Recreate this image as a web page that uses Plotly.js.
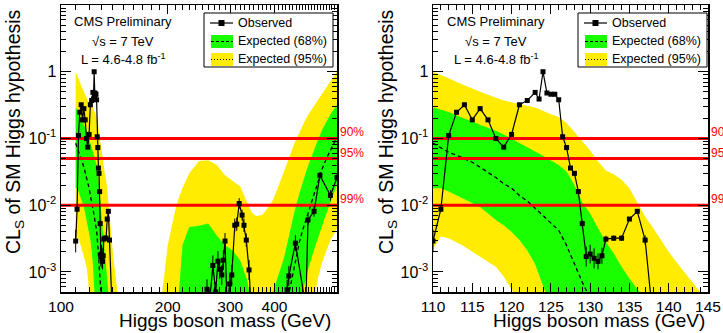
<!DOCTYPE html>
<html><head><meta charset="utf-8">
<script src="https://cdn.plot.ly/plotly-3.0.1.min.js"></script>
<style>html,body{margin:0;padding:0;background:#fff}#chart{width:723px;height:333px}</style>
</head><body><div id="chart"></div>
<script>
// ---------------- DATA ----------------
// Low-mass region (GeV), used by both panels
const lowMass = [110,111,112,113,114,115,116,117,118,119,120,121,122,123,124,125,126,127,128,129,130,131,132,133,134,135,136,137,138,139,140,141,142,143,144,145];
const yellowUpLow = [1.0,0.9,0.8,0.7,0.62,0.55,0.5,0.45,0.41,0.37,0.35,0.33,0.31,0.29,0.26,0.23,0.21,0.17,0.125,0.09,0.066,0.045,0.033,0.029,0.024,0.018,0.011,0.0067,0.0046,0.003,0.002,0.0014,0.001,0.0007,0.0005,0.0004];
const greenUpLow = [0.29,0.27,0.25,0.22,0.20,0.18,0.16,0.145,0.13,0.115,0.10,0.087,0.075,0.064,0.055,0.047,0.04,0.032,0.02,0.011,0.0075,0.0045,0.0028,0.0019,0.0012,0.0008,0.00055,0.0004,0.0003,0.0002,0.0001,1e-5,1e-5,1e-5,1e-5,1e-5];
const medianLow = [0.085,0.072,0.062,0.056,0.050,0.044,0.037,0.031,0.026,0.021,0.018,0.014,0.0115,0.009,0.007,0.0053,0.0042,0.0025,0.0013,0.0007,0.0004,0.0002,0.0001,1e-5,1e-5,1e-5,1e-5,1e-5,1e-5,1e-5,1e-5,1e-5,1e-5,1e-5,1e-5,1e-5];
const greenLoLow = [0.018,0.018,0.016,0.014,0.0125,0.011,0.0094,0.0075,0.006,0.005,0.004,0.003,0.0021,0.0013,0.0006,0.0003,0.0001,1e-6,1e-6,1e-6,1e-6,1e-6,1e-6,1e-6,1e-6,1e-6,1e-6,1e-6,1e-6,1e-6,1e-6,1e-6,1e-6,1e-6,1e-6,1e-6];
const yellowLoLow = [0.0022,0.0034,0.0032,0.0028,0.0024,0.002,0.0017,0.00145,0.0012,0.00085,0.00055,0.00035,0.0002,0.0001,1e-7,1e-7,1e-7,1e-7,1e-7,1e-7,1e-7,1e-7,1e-7,1e-7,1e-7,1e-7,1e-7,1e-7,1e-7,1e-7,1e-7,1e-7,1e-7,1e-7,1e-7,1e-7];

const lowObsMass = [110,111,112,113,114,115,116,117,118,119,120,121,122,123,123.5,124,124.5,125,125.5,126,126.5,127,127.5,128,128.5,129,129.5,130,130.5,131,131.5,132,133,134,135,136,137,138];
const lowObs = [0.0029,0.0087,0.111,0.247,0.32,0.19,0.28,0.19,0.10,0.074,0.115,0.32,0.37,0.49,0.39,1.0,0.48,0.46,0.46,0.38,0.106,0.073,0.036,0.030,0.016,0.0053,0.0017,0.00185,0.0016,0.00144,0.00175,0.0031,0.0032,0.0032,0.0062,0.0081,0.0030,0.0002];
const lowObsErrDex = [0.17,0.04,0,0,0,0,0,0,0,0,0,0,0,0,0,0,0,0,0,0,0,0,0,0,0,0.05,0.15,0.14,0.15,0.12,0.12,0.05,0.04,0.04,0.03,0.02,0.07,0];

// High-mass region (left panel only)
const hiMass = [150,160,185,193,200,210,215,220,230,245,260,275,290,305,320,335,345,355,370,385,396,410,425,440,455,470,480,490,500,515,530,545,560,575,590,600];
const yellowUpHi = [1e-6,1e-6,1e-4,5e-4,2.5e-3,8.5e-3,0.013,0.018,0.03,0.046,0.047,0.04,0.028,0.023,0.019,0.011,0.0078,0.0068,0.0072,0.0095,0.012,0.019,0.031,0.052,0.085,0.125,0.155,0.195,0.235,0.3,0.37,0.47,0.58,0.72,0.88,1.0];
const greenUpHi = [1e-7,1e-7,1e-7,1e-7,1e-6,1e-5,5e-4,2.5e-3,4.7e-3,4.9e-3,5.3e-3,3.5e-3,2.5e-3,2.1e-3,1.5e-3,7.5e-4,3e-4,1e-4,5e-5,1.5e-4,5e-4,9e-4,1.6e-3,3.6e-3,8e-3,0.015,0.022,0.031,0.042,0.065,0.095,0.135,0.18,0.23,0.28,0.32];
const medianHi = [1e-7,1e-7,1e-7,1e-7,1e-7,1e-7,1e-7,1e-7,1e-7,1e-7,1e-7,1e-7,1e-7,1e-7,1e-7,1e-7,1e-7,1e-7,1e-7,1e-7,1e-7,1e-7,1.5e-4,5e-4,1.2e-3,2.8e-3,4.2e-3,6e-3,8.5e-3,0.014,0.023,0.035,0.05,0.068,0.09,0.105];
const greenLoHi = [1e-7,1e-7,1e-7,1e-7,1e-7,1e-7,1e-7,1e-7,1e-7,1e-7,1e-7,1e-7,1e-7,1e-7,1e-7,1e-7,1e-7,1e-7,1e-7,1e-7,1e-7,1e-7,1e-7,1e-7,1e-7,1e-7,5e-4,8e-4,1.2e-3,2e-3,3.2e-3,5e-3,7.5e-3,0.011,0.016,0.02];
const yellowLoHi = [1e-7,1e-7,1e-7,1e-7,1e-7,1e-7,1e-7,1e-7,1e-7,1e-7,1e-7,1e-7,1e-7,1e-7,1e-7,1e-7,1e-7,1e-7,1e-7,1e-7,1e-7,1e-7,1e-7,1e-7,1e-7,1e-7,1e-7,1e-7,1e-7,3e-4,8e-4,1.4e-3,2.1e-3,3e-3,3.8e-3,4.5e-3];

const hiObsMass = [145,200,252,258,263,268,273,277,280,284,287,290,294,299,303,309,313,318,324,328,333,339,345,400,428,434,439,458,490,497,517,537,575,600];
const hiObs = [1e-6,1e-6,3e-4,5.5e-4,4e-4,1.25e-3,5e-4,1.45e-3,1.1e-3,9e-4,1.5e-3,2.9e-3,3e-4,6.6e-4,9e-4,5e-3,5.2e-3,0.0106,7.1e-3,5e-3,3e-3,1.07e-3,2e-4,1e-6,2e-4,5.4e-4,8.7e-4,2.7e-3,3e-4,6e-3,8.1e-3,0.028,0.014,0.026];
const hiObsErrDex = [0,0,0.15,0.15,0.15,0.15,0.15,0.15,0.15,0.15,0.15,0.12,0.15,0.15,0.15,0.1,0.1,0.08,0.08,0.1,0.1,0.15,0,0,0.15,0.15,0.15,0.12,0,0.08,0.08,0.05,0.08,0.05];

const clLevels = [0.1, 0.05, 0.01];
const clLabels = ['90%', '95%', '99%'];

const yTickVals = [0.001, 0.01, 0.1, 1];
const yTickText = ['10<sup>-3</sup>', '10<sup>-2</sup>', '10<sup>-1</sup>', '1'];
const xTickLeft = [100, 200, 300, 400];
const xTickRight = [110, 115, 120, 125, 130, 135, 140, 145];

const legendLabels = ['Observed', 'Expected (68%)', 'Expected (95%)'];
const infoLines = ['CMS Preliminary', '\u221As = 7 TeV', 'L = 4.6-4.8 fb<sup>-1</sup>'];

// ---------------- STYLE / LAYOUT ----------------
const W = 723, H = 333;
const FONT = 'Liberation Sans, Arial, Helvetica, sans-serif';
const YELLOW = '#ffec00', GREEN = '#1aff00', RED = '#ff0000';
const fx = p => p / W, fy = p => 1 - p / H;
const yRange = [5e-4, 10];
const xRangeLeft = [100, 600], xRangeRight = [110, 145];

function errs(vals, dex) {
  return {
    up: vals.map((v, i) => v * (Math.pow(10, dex[i]) - 1)),
    dn: vals.map((v, i) => v * (1 - Math.pow(10, -dex[i])))
  };
}

function panelTraces(xa, ya, mass, yUp, gUp, med, gLo, yLo, oMass, obs, oErr, xr) {
  const base = {xaxis: xa, yaxis: ya, hoverinfo: 'skip', showlegend: false};
  const e = errs(obs, oErr);
  const t = [
    Object.assign({x: mass, y: yLo, mode: 'lines', line: {width: 0, color: YELLOW}}, base),
    Object.assign({x: mass, y: yUp, mode: 'lines', fill: 'tonexty', fillcolor: YELLOW, line: {width: 0, color: YELLOW}}, base),
    Object.assign({x: mass, y: gLo, mode: 'lines', line: {width: 0, color: GREEN}}, base),
    Object.assign({x: mass, y: gUp, mode: 'lines', fill: 'tonexty', fillcolor: GREEN, line: {width: 0, color: GREEN}}, base),
    Object.assign({x: mass, y: med, mode: 'lines', line: {width: 1.3, color: 'black', dash: '4px,3px'}}, base)
  ];
  clLevels.forEach(l => t.push(Object.assign({x: xr, y: [l, l], mode: 'lines', line: {width: 3, color: RED}}, base)));
  t.push(Object.assign({
    x: oMass, y: obs, mode: 'lines+markers',
    line: {width: 1.2, color: 'black'},
    marker: {symbol: 'square', size: 5, color: 'black'},
    error_y: {type: 'data', symmetric: false, array: e.up, arrayminus: e.dn, color: 'black', thickness: 1, width: 0}
  }, base));
  return t;
}

const traces = [].concat(
  panelTraces('x', 'y', lowMass.concat(hiMass), yellowUpLow.concat(yellowUpHi), greenUpLow.concat(greenUpHi),
    medianLow.concat(medianHi), greenLoLow.concat(greenLoHi), yellowLoLow.concat(yellowLoHi),
    lowObsMass.concat(hiObsMass), lowObs.concat(hiObs), lowObsErrDex.concat(hiObsErrDex), xRangeLeft),
  panelTraces('x2', 'y2', lowMass, yellowUpLow, greenUpLow, medianLow, greenLoLow, yellowLoLow,
    lowObsMass, lowObs, lowObsErrDex, xRangeRight)
);

const yMinor = [];
for (let d = -4; d <= 0; d++) for (let k = 2; k <= 9; k++) yMinor.push(k * Math.pow(10, d));
const xMinorLeft = [];
for (let m = 110; m <= 600; m += 10) if (xTickLeft.indexOf(m) < 0) xMinorLeft.push(m);

const yDom = [fy(292), fy(5)];
function yAxis(anchor) {
  return {
    type: 'log', range: [Math.log10(yRange[0]), Math.log10(yRange[1])], domain: yDom, anchor: anchor,
    tickmode: 'array', tickvals: yTickVals, ticktext: yTickText,
    ticks: 'inside', ticklen: 10, tickwidth: 1, tickcolor: 'black',
    showline: true, linecolor: 'black', linewidth: 1.5, mirror: 'allticks',
    showgrid: false, zeroline: false, tickfont: {size: 16, family: FONT},
    minor: {tickmode: 'array', tickvals: yMinor, ticklen: 5, tickcolor: 'black', ticks: 'inside', showgrid: false}
  };
}
const xCommon = {
  ticks: 'inside', ticklen: 9, tickwidth: 1, tickcolor: 'black',
  showline: true, linecolor: 'black', linewidth: 1.5, mirror: 'allticks',
  showgrid: false, zeroline: false, tickfont: {size: 15.5, family: FONT}
};

const panels = [
  {xdom: [61, 337], legL: 204, infoCx: 123, yTitleX: 15, xTitleR: 333, xa: 'x', ya: 'y'},
  {xdom: [433, 708], legL: 578, infoCx: 496, yTitleX: 388, xTitleR: 707, xa: 'x2', ya: 'y2'}
];

const shapes = [], annotations = [];
panels.forEach(p => {
  const L = p.legL;
  shapes.push({type: 'rect', xref: 'paper', yref: 'paper', x0: fx(L), x1: fx(L + 129), y0: fy(67), y1: fy(13), line: {color: 'black', width: 1}, fillcolor: 'white', layer: 'above'});
  shapes.push({type: 'line', xref: 'paper', yref: 'paper', x0: fx(L + 6), x1: fx(L + 29), y0: fy(23), y1: fy(23), line: {color: 'black', width: 1.2}});
  shapes.push({type: 'rect', xref: 'paper', yref: 'paper', x0: fx(L + 14.5), x1: fx(L + 20.5), y0: fy(26), y1: fy(20), line: {width: 0}, fillcolor: 'black'});
  shapes.push({type: 'rect', xref: 'paper', yref: 'paper', x0: fx(L + 7), x1: fx(L + 29), y0: fy(48), y1: fy(35), line: {width: 0}, fillcolor: GREEN});
  shapes.push({type: 'line', xref: 'paper', yref: 'paper', x0: fx(L + 7), x1: fx(L + 29), y0: fy(41.5), y1: fy(41.5), line: {color: 'black', width: 1.2, dash: '3px,2px'}});
  shapes.push({type: 'rect', xref: 'paper', yref: 'paper', x0: fx(L + 7), x1: fx(L + 29), y0: fy(66), y1: fy(53), line: {width: 0}, fillcolor: YELLOW});
  shapes.push({type: 'line', xref: 'paper', yref: 'paper', x0: fx(L + 7), x1: fx(L + 29), y0: fy(59.5), y1: fy(59.5), line: {color: 'black', width: 1.2, dash: '1px,2px'}});
  [23, 41, 59].forEach((yy, i) => annotations.push({xref: 'paper', yref: 'paper', x: fx(L + 32), y: fy(yy), xanchor: 'left', yanchor: 'middle', showarrow: false, text: legendLabels[i], font: {size: 12.5, family: FONT, color: 'black'}}));
  [22, 41, 59].forEach((yy, i) => annotations.push({xref: 'paper', yref: 'paper', x: fx(p.infoCx), y: fy(yy), xanchor: 'center', yanchor: 'middle', showarrow: false, text: infoLines[i], font: {size: 13, family: FONT, color: 'black'}}));
  clLevels.forEach((l, i) => annotations.push({xref: p.xa + ' domain', yref: p.ya, x: 1, y: Math.log10(l), xanchor: 'left', yanchor: 'middle', xshift: 1, yshift: 6, showarrow: false, text: clLabels[i], font: {size: 12, family: FONT, color: RED}}));
  annotations.push({xref: 'paper', yref: 'paper', x: fx(p.yTitleX), y: fy(132), xanchor: 'center', yanchor: 'middle', textangle: -90, showarrow: false, text: 'CL<sub>S</sub> of SM Higgs hypothesis', font: {size: 19.5, family: FONT, color: 'black'}});
  annotations.push({xref: 'paper', yref: 'paper', x: fx(p.xTitleR), y: fy(333), xanchor: 'right', yanchor: 'bottom', showarrow: false, text: 'Higgs boson mass (GeV)', font: {size: 19, family: FONT, color: 'black'}});
});

const layout = {
  width: W, height: H, margin: {l: 0, r: 0, t: 0, b: 0},
  paper_bgcolor: 'white', plot_bgcolor: 'white', showlegend: false,
  font: {family: FONT, color: 'black'},
  xaxis: Object.assign({}, xCommon, {
    type: 'log', range: [Math.log10(xRangeLeft[0]), Math.log10(xRangeLeft[1])], domain: [fx(61), fx(337)], anchor: 'y',
    tickmode: 'array', tickvals: xTickLeft, ticktext: xTickLeft.map(String),
    minor: {tickmode: 'array', tickvals: xMinorLeft, ticklen: 5, tickcolor: 'black', ticks: 'inside', showgrid: false}
  }),
  yaxis: yAxis('x'),
  xaxis2: Object.assign({}, xCommon, {
    type: 'linear', range: xRangeRight, domain: [fx(433), fx(708)], anchor: 'y2',
    tickmode: 'array', tickvals: xTickRight, ticktext: xTickRight.map(String),
    minor: {tickmode: 'linear', tick0: 110, dtick: 1, ticklen: 5, tickcolor: 'black', ticks: 'inside', showgrid: false}
  }),
  yaxis2: yAxis('x2'),
  shapes: shapes, annotations: annotations
};

Plotly.newPlot('chart', traces, layout, {staticPlot: true, displayModeBar: false});
</script>
</body></html>
